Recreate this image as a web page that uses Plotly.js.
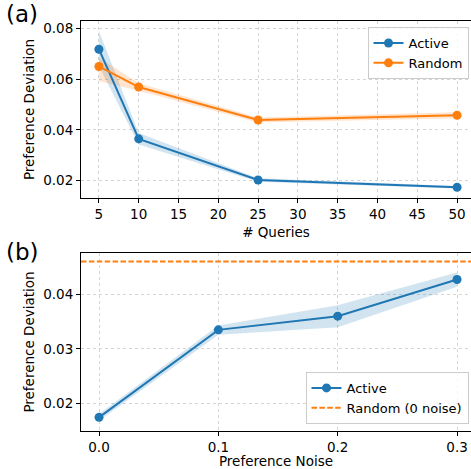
<!DOCTYPE html>
<html><head><meta charset="utf-8">
<script src="https://cdn.plot.ly/plotly-3.0.1.min.js"></script>
<style>html,body{margin:0;padding:0;background:#fff}</style>
</head><body><div id="chart" style="width:471px;height:469px"></div>
<script>
// Panel (a)
const queries = [5, 10, 25, 50];
const activeMean = [0.0718, 0.0365, 0.0203, 0.0174];
const activeLow = [0.0652, 0.0343, 0.0196, 0.0169];
const activeHigh = [0.0790, 0.0388, 0.0210, 0.0179];
const randomMean = [0.0650, 0.0569, 0.0439, 0.0458];
const randomLow = [0.0593, 0.0554, 0.0429, 0.0446];
const randomHigh = [0.0685, 0.0584, 0.0449, 0.0470];
// Panel (b)
const noise = [0.0, 0.1, 0.2, 0.3];
const noiseMean = [0.0175, 0.0335, 0.0360, 0.0427];
const noiseLow = [0.0169, 0.0326, 0.0340, 0.0414];
const noiseHigh = [0.0181, 0.0343, 0.0380, 0.0440];
const randomZeroNoise = 0.0460;

const C0 = '#1f77b4', C1 = '#ff7f0e';
const font = {family: 'DejaVu Sans', size: 13.5, color: '#000'};

function band(x, lo, hi, color, xa, ya) {
  return {x: x.concat(x.slice().reverse()), y: lo.concat(hi.slice().reverse()),
    fill: 'toself', fillcolor: color, line: {width: 0}, mode: 'lines',
    hoverinfo: 'skip', showlegend: false, xaxis: xa, yaxis: ya};
}
function line(x, y, color, name, xa, ya, leg) {
  return {x: x, y: y, mode: 'lines+markers', name: name, line: {color: color, width: 2},
    marker: {color: color, size: 9}, xaxis: xa, yaxis: ya, legend: leg};
}

const data = [
  band(queries, activeLow, activeHigh, 'rgba(31,119,180,0.2)', 'x', 'y'),
  band(queries, randomLow, randomHigh, 'rgba(255,127,14,0.2)', 'x', 'y'),
  line(queries, activeMean, C0, 'Active', 'x', 'y', 'legend'),
  line(queries, randomMean, C1, 'Random', 'x', 'y', 'legend'),
  band(noise, noiseLow, noiseHigh, 'rgba(31,119,180,0.2)', 'x2', 'y2'),
  line(noise, noiseMean, C0, 'Active', 'x2', 'y2', 'legend2')
];

const axBase = {showline: true, linecolor: '#000', linewidth: 1, ticks: 'outside', ticklen: 4,
  tickcolor: '#000', tickwidth: 1, showgrid: true, gridcolor: '#d4d4d4', griddash: 'dot', gridwidth: 1,
  zeroline: false, tickfont: font};

const legFont = {family: 'DejaVu Sans', size: 13, color: '#000'};

const layout = {
  width: 471, height: 469, margin: {l: 81, r: 0, t: 0, b: 0},
  paper_bgcolor: '#fff', plot_bgcolor: '#fff', font: font,
  xaxis: Object.assign({}, axBase, {domain: [0, 1], range: [2.75, 51.75], anchor: 'y', mirror: true,
    tickvals: [5,10,15,20,25,30,35,40,45,50], title: {text: '# Queries', font: font, standoff: 6}}),
  yaxis: Object.assign({}, axBase, {domain: [0.5778, 0.9552], range: [0.0132, 0.0829], anchor: 'x',
    tickvals: [0.02,0.04,0.06,0.08], tickformat: '.2f', title: {text: 'Preference Deviation', font: font, standoff: 5}}),
  xaxis2: Object.assign({}, axBase, {domain: [0, 1], range: [-0.0151, 0.3117], anchor: 'y2', mirror: true,
    tickvals: [0,0.1,0.2,0.3], tickformat: '.1f', title: {text: 'Preference Noise', font: font, standoff: 6}}),
  yaxis2: Object.assign({}, axBase, {domain: [0.0817, 0.4599], range: [0.01506, 0.0475], anchor: 'x2',
    tickvals: [0.02,0.03,0.04], tickformat: '.2f', title: {text: 'Preference Deviation', font: font, standoff: 5}}),
  legend: {x: 0.9936, xanchor: 'right', y: 0.9424, yanchor: 'top', bgcolor: 'rgba(255,255,255,0.8)',
    bordercolor: '#cccccc', borderwidth: 1, font: legFont, itemwidth: 30},
  legend2: {x: 0.9936, xanchor: 'right', y: 0.096, yanchor: 'bottom', bgcolor: 'rgba(255,255,255,0.8)',
    bordercolor: '#cccccc', borderwidth: 1, font: legFont, itemwidth: 30},
  shapes: [{type: 'line', xref: 'x2 domain', yref: 'y2', x0: 0, x1: 1, y0: randomZeroNoise, y1: randomZeroNoise,
    line: {color: C1, width: 2, dash: '5.5px,2.4px'}, showlegend: true, name: 'Random (0 noise)', legend: 'legend2'}],
  annotations: [
    {text: '(a)', xref: 'paper', yref: 'paper', x: -0.108, y: 0.97, xanchor: 'right', yanchor: 'middle',
      showarrow: false, borderpad: 0, font: {family: 'DejaVu Sans', size: 23, color: '#000'}},
    {text: '(b)', xref: 'paper', yref: 'paper', x: -0.106, y: 0.463, xanchor: 'right', yanchor: 'middle',
      showarrow: false, borderpad: 0, font: {family: 'DejaVu Sans', size: 23, color: '#000'}}
  ]
};
Plotly.newPlot('chart', data, layout, {displayModeBar: false, staticPlot: true});
</script></body></html>
